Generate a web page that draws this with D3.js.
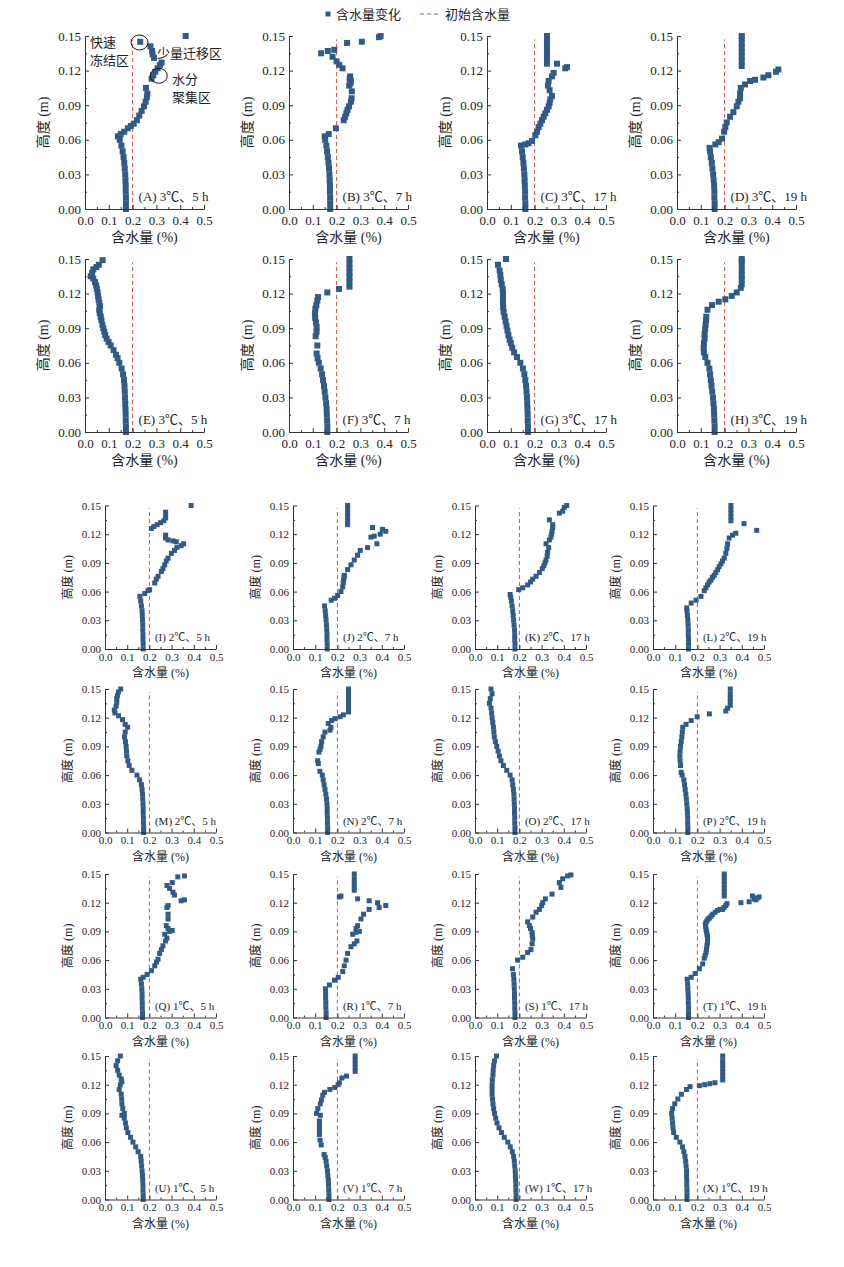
<!DOCTYPE html>
<html>
<head>
<meta charset="utf-8">
<script src="https://cdn.jsdelivr.net/npm/d3@7"></script>
<style>
  body { margin: 0; background: #fff; }
  svg text { font-family: 'Liberation Serif', 'Times New Roman', 'Noto Sans CJK SC', serif; }
</style>
</head>
<body>
<svg id="chart" width="844" height="1267"></svg>
<script>
// moisture content (%) vs height (m)
const panelA = [[0.172,0],[0.172,0.005],[0.172,0.01],[0.171,0.015],[0.171,0.02],[0.170,0.025],[0.169,0.03],[0.167,0.035],[0.165,0.04],[0.162,0.045],[0.158,0.05],[0.153,0.055],[0.146,0.06],[0.138,0.063],[0.15,0.065],[0.165,0.067],[0.18,0.07],[0.193,0.072],[0.205,0.074],[0.218,0.077],[0.228,0.081],[0.238,0.085],[0.248,0.089],[0.255,0.093],[0.26,0.097],[0.262,0.1],[0.256,0.105],[0.28,0.113],[0.287,0.116],[0.295,0.119],[0.305,0.122],[0.315,0.125],[0.322,0.127],[0.29,0.131],[0.284,0.134],[0.282,0.137],[0.275,0.141],[0.232,0.145],[0.423,0.15]];
const panelB = [[0.173,0],[0.173,0.005],[0.173,0.01],[0.172,0.015],[0.172,0.02],[0.171,0.025],[0.17,0.03],[0.168,0.035],[0.166,0.04],[0.163,0.045],[0.16,0.05],[0.157,0.055],[0.152,0.06],[0.15,0.063],[0.167,0.065],[0.197,0.07],[0.23,0.077],[0.236,0.08],[0.241,0.083],[0.246,0.086],[0.252,0.089],[0.26,0.093],[0.263,0.096],[0.264,0.102],[0.253,0.107],[0.258,0.109],[0.26,0.111],[0.255,0.113],[0.257,0.115],[0.225,0.122],[0.211,0.125],[0.2,0.128],[0.183,0.132],[0.135,0.135],[0.163,0.137],[0.19,0.138],[0.244,0.144],[0.306,0.145],[0.378,0.149],[0.385,0.15]];
const panelC = [[0.161,0],[0.161,0.005],[0.16,0.01],[0.16,0.015],[0.159,0.02],[0.158,0.025],[0.157,0.03],[0.155,0.035],[0.153,0.04],[0.15,0.045],[0.147,0.05],[0.143,0.055],[0.161,0.056],[0.175,0.057],[0.189,0.059],[0.203,0.064],[0.21,0.067],[0.217,0.071],[0.224,0.074],[0.231,0.077],[0.238,0.08],[0.245,0.083],[0.252,0.086],[0.259,0.089],[0.263,0.092],[0.266,0.095],[0.273,0.098],[0.263,0.103],[0.256,0.107],[0.259,0.111],[0.273,0.115],[0.28,0.118],[0.329,0.122],[0.336,0.123],[0.294,0.126],[0.252,0.126],[0.252,0.13],[0.252,0.134],[0.252,0.138],[0.252,0.142],[0.252,0.146],[0.252,0.15]];
const panelD = [[0.158,0],[0.158,0.005],[0.157,0.01],[0.157,0.015],[0.156,0.02],[0.154,0.025],[0.152,0.03],[0.149,0.035],[0.146,0.04],[0.142,0.045],[0.139,0.05],[0.137,0.053],[0.161,0.056],[0.175,0.058],[0.189,0.061],[0.198,0.067],[0.203,0.071],[0.209,0.075],[0.223,0.08],[0.237,0.084],[0.251,0.089],[0.258,0.093],[0.265,0.096],[0.265,0.1],[0.268,0.105],[0.286,0.108],[0.307,0.111],[0.328,0.112],[0.363,0.114],[0.384,0.116],[0.416,0.119],[0.426,0.121],[0.272,0.124],[0.272,0.128],[0.272,0.132],[0.272,0.136],[0.272,0.14],[0.272,0.144],[0.272,0.148],[0.272,0.15]];
const panelE = [[0.172,0],[0.172,0.005],[0.171,0.01],[0.171,0.015],[0.170,0.02],[0.169,0.025],[0.168,0.03],[0.167,0.035],[0.166,0.04],[0.164,0.045],[0.16,0.05],[0.154,0.055],[0.144,0.06],[0.137,0.064],[0.13,0.067],[0.12,0.071],[0.108,0.075],[0.099,0.078],[0.091,0.081],[0.085,0.084],[0.081,0.087],[0.077,0.09],[0.073,0.093],[0.069,0.097],[0.066,0.1],[0.062,0.103],[0.06,0.106],[0.063,0.109],[0.06,0.112],[0.057,0.115],[0.055,0.118],[0.053,0.121],[0.05,0.124],[0.047,0.127],[0.042,0.13],[0.035,0.133],[0.024,0.135],[0.03,0.138],[0.035,0.141],[0.048,0.143],[0.058,0.145],[0.074,0.149]];
const panelF = [[0.161,0],[0.161,0.005],[0.16,0.01],[0.159,0.015],[0.158,0.02],[0.156,0.025],[0.153,0.03],[0.15,0.035],[0.147,0.04],[0.143,0.045],[0.139,0.05],[0.133,0.055],[0.125,0.06],[0.12,0.064],[0.116,0.068],[0.119,0.075],[0.112,0.083],[0.116,0.087],[0.116,0.091],[0.113,0.095],[0.11,0.099],[0.109,0.103],[0.111,0.107],[0.115,0.11],[0.119,0.114],[0.122,0.117],[0.161,0.121],[0.21,0.124],[0.254,0.126],[0.254,0.13],[0.254,0.134],[0.254,0.138],[0.254,0.142],[0.254,0.146],[0.254,0.15]];
const panelG = [[0.172,0],[0.172,0.005],[0.171,0.01],[0.171,0.015],[0.17,0.02],[0.169,0.025],[0.168,0.03],[0.166,0.035],[0.164,0.04],[0.161,0.045],[0.157,0.05],[0.151,0.055],[0.14,0.06],[0.126,0.065],[0.114,0.069],[0.106,0.073],[0.1,0.077],[0.095,0.08],[0.09,0.084],[0.086,0.088],[0.082,0.092],[0.078,0.096],[0.074,0.1],[0.07,0.104],[0.068,0.108],[0.067,0.112],[0.067,0.116],[0.067,0.12],[0.066,0.124],[0.062,0.128],[0.058,0.132],[0.056,0.136],[0.053,0.14],[0.046,0.145],[0.08,0.15]];
const panelH = [[0.158,0],[0.158,0.005],[0.157,0.01],[0.156,0.015],[0.155,0.02],[0.153,0.025],[0.151,0.03],[0.148,0.035],[0.145,0.04],[0.142,0.045],[0.139,0.05],[0.136,0.055],[0.128,0.06],[0.119,0.065],[0.113,0.069],[0.112,0.073],[0.113,0.077],[0.116,0.081],[0.116,0.085],[0.118,0.089],[0.12,0.093],[0.122,0.097],[0.123,0.1],[0.128,0.106],[0.147,0.11],[0.175,0.113],[0.203,0.115],[0.23,0.118],[0.251,0.121],[0.268,0.125],[0.272,0.128],[0.272,0.132],[0.272,0.136],[0.272,0.14],[0.272,0.144],[0.272,0.148],[0.272,0.15]];
const panelI = [[0.172,0],[0.172,0.005],[0.171,0.01],[0.171,0.015],[0.17,0.02],[0.17,0.025],[0.169,0.03],[0.168,0.035],[0.167,0.04],[0.164,0.045],[0.161,0.05],[0.157,0.055],[0.179,0.058],[0.194,0.061],[0.201,0.062],[0.224,0.069],[0.231,0.073],[0.239,0.076],[0.254,0.081],[0.261,0.084],[0.269,0.088],[0.276,0.092],[0.284,0.095],[0.299,0.1],[0.313,0.103],[0.324,0.106],[0.343,0.108],[0.354,0.11],[0.321,0.112],[0.306,0.113],[0.284,0.114],[0.273,0.116],[0.273,0.119],[0.209,0.126],[0.22,0.128],[0.235,0.13],[0.25,0.132],[0.265,0.134],[0.273,0.137],[0.273,0.14],[0.273,0.143],[0.388,0.15]];
const panelJ = [[0.154,0],[0.154,0.005],[0.153,0.01],[0.153,0.015],[0.152,0.02],[0.151,0.025],[0.149,0.03],[0.147,0.035],[0.145,0.04],[0.142,0.045],[0.172,0.051],[0.187,0.053],[0.201,0.056],[0.216,0.06],[0.224,0.065],[0.226,0.069],[0.228,0.072],[0.23,0.075],[0.231,0.077],[0.246,0.083],[0.261,0.088],[0.276,0.093],[0.291,0.098],[0.303,0.103],[0.336,0.106],[0.378,0.11],[0.351,0.117],[0.366,0.118],[0.393,0.12],[0.418,0.123],[0.403,0.125],[0.358,0.127],[0.246,0.13],[0.246,0.134],[0.246,0.138],[0.246,0.142],[0.246,0.146],[0.246,0.15]];
const panelK = [[0.18,0],[0.18,0.005],[0.179,0.01],[0.179,0.015],[0.178,0.02],[0.176,0.025],[0.174,0.03],[0.172,0.035],[0.17,0.04],[0.167,0.045],[0.164,0.05],[0.161,0.054],[0.158,0.057],[0.197,0.062],[0.215,0.064],[0.237,0.067],[0.25,0.07],[0.26,0.073],[0.275,0.076],[0.29,0.08],[0.303,0.084],[0.31,0.087],[0.315,0.09],[0.32,0.093],[0.325,0.097],[0.327,0.101],[0.332,0.106],[0.32,0.11],[0.335,0.114],[0.342,0.117],[0.345,0.12],[0.347,0.123],[0.35,0.127],[0.35,0.13],[0.335,0.135],[0.38,0.142],[0.395,0.144],[0.402,0.148],[0.413,0.15]];
const panelL = [[0.16,0],[0.16,0.005],[0.16,0.01],[0.159,0.015],[0.159,0.02],[0.158,0.025],[0.157,0.03],[0.155,0.035],[0.153,0.04],[0.152,0.043],[0.172,0.048],[0.194,0.051],[0.216,0.055],[0.231,0.061],[0.238,0.064],[0.246,0.067],[0.253,0.07],[0.261,0.072],[0.268,0.075],[0.276,0.077],[0.283,0.08],[0.291,0.083],[0.298,0.086],[0.306,0.089],[0.313,0.092],[0.321,0.095],[0.328,0.1],[0.333,0.105],[0.336,0.11],[0.343,0.116],[0.358,0.119],[0.373,0.121],[0.467,0.124],[0.41,0.131],[0.351,0.134],[0.351,0.138],[0.351,0.142],[0.351,0.146],[0.351,0.15]];
const panelM = [[0.174,0],[0.174,0.005],[0.173,0.01],[0.173,0.015],[0.172,0.02],[0.172,0.025],[0.171,0.03],[0.17,0.035],[0.169,0.04],[0.167,0.045],[0.164,0.05],[0.156,0.055],[0.144,0.06],[0.121,0.065],[0.109,0.07],[0.103,0.075],[0.098,0.08],[0.097,0.085],[0.095,0.09],[0.092,0.095],[0.088,0.1],[0.091,0.105],[0.102,0.11],[0.091,0.113],[0.079,0.118],[0.061,0.122],[0.045,0.125],[0.042,0.128],[0.05,0.132],[0.053,0.136],[0.053,0.14],[0.056,0.143],[0.061,0.147],[0.071,0.15]];
const panelN = [[0.156,0],[0.156,0.005],[0.155,0.01],[0.155,0.015],[0.154,0.02],[0.154,0.025],[0.153,0.03],[0.151,0.035],[0.148,0.04],[0.144,0.045],[0.14,0.05],[0.136,0.055],[0.132,0.06],[0.121,0.064],[0.114,0.072],[0.111,0.075],[0.117,0.084],[0.122,0.087],[0.126,0.09],[0.129,0.095],[0.136,0.1],[0.144,0.105],[0.167,0.107],[0.171,0.11],[0.159,0.114],[0.174,0.117],[0.189,0.119],[0.212,0.121],[0.227,0.123],[0.25,0.126],[0.25,0.13],[0.25,0.134],[0.25,0.138],[0.25,0.142],[0.25,0.146],[0.25,0.15]];
const panelO = [[0.18,0],[0.18,0.005],[0.179,0.01],[0.179,0.015],[0.178,0.02],[0.178,0.025],[0.177,0.03],[0.176,0.035],[0.175,0.04],[0.173,0.045],[0.17,0.05],[0.167,0.055],[0.158,0.06],[0.143,0.065],[0.128,0.07],[0.117,0.075],[0.11,0.08],[0.104,0.085],[0.098,0.09],[0.092,0.095],[0.087,0.1],[0.085,0.105],[0.083,0.11],[0.08,0.115],[0.077,0.12],[0.075,0.125],[0.072,0.13],[0.065,0.135],[0.069,0.14],[0.077,0.145],[0.072,0.15]];
const panelP = [[0.157,0],[0.157,0.005],[0.156,0.01],[0.156,0.015],[0.155,0.02],[0.154,0.025],[0.152,0.03],[0.15,0.035],[0.148,0.04],[0.145,0.045],[0.142,0.05],[0.139,0.055],[0.131,0.06],[0.127,0.063],[0.124,0.07],[0.122,0.075],[0.121,0.08],[0.122,0.085],[0.124,0.09],[0.127,0.095],[0.13,0.1],[0.132,0.105],[0.134,0.11],[0.149,0.113],[0.172,0.117],[0.199,0.121],[0.254,0.124],[0.328,0.127],[0.336,0.13],[0.348,0.133],[0.348,0.137],[0.348,0.141],[0.348,0.145],[0.348,0.15]];
const panelQ = [[0.169,0],[0.169,0.005],[0.168,0.01],[0.168,0.015],[0.167,0.02],[0.167,0.025],[0.166,0.03],[0.164,0.035],[0.161,0.04],[0.172,0.042],[0.19,0.045],[0.209,0.049],[0.224,0.054],[0.232,0.058],[0.239,0.061],[0.246,0.067],[0.254,0.071],[0.261,0.075],[0.273,0.08],[0.279,0.083],[0.269,0.087],[0.291,0.09],[0.303,0.091],[0.284,0.093],[0.276,0.096],[0.284,0.103],[0.284,0.108],[0.279,0.115],[0.284,0.117],[0.343,0.122],[0.358,0.123],[0.313,0.128],[0.306,0.131],[0.291,0.135],[0.279,0.138],[0.303,0.141],[0.328,0.147],[0.358,0.148]];
const panelR = [[0.149,0],[0.149,0.005],[0.148,0.01],[0.148,0.015],[0.147,0.02],[0.147,0.025],[0.146,0.03],[0.164,0.034],[0.187,0.039],[0.204,0.042],[0.224,0.048],[0.231,0.054],[0.239,0.06],[0.246,0.067],[0.261,0.074],[0.276,0.077],[0.288,0.08],[0.269,0.087],[0.284,0.089],[0.299,0.09],[0.284,0.093],[0.291,0.096],[0.306,0.103],[0.318,0.108],[0.343,0.113],[0.388,0.115],[0.418,0.117],[0.381,0.12],[0.343,0.122],[0.291,0.124],[0.209,0.126],[0.216,0.127],[0.276,0.133],[0.276,0.137],[0.276,0.141],[0.276,0.145],[0.276,0.15]];
const panelS = [[0.18,0],[0.18,0.005],[0.179,0.01],[0.179,0.015],[0.178,0.02],[0.178,0.025],[0.177,0.03],[0.176,0.035],[0.175,0.04],[0.173,0.045],[0.169,0.051],[0.192,0.06],[0.215,0.063],[0.237,0.068],[0.252,0.071],[0.257,0.077],[0.26,0.082],[0.258,0.086],[0.257,0.089],[0.25,0.093],[0.245,0.096],[0.237,0.1],[0.26,0.105],[0.275,0.11],[0.29,0.113],[0.3,0.117],[0.305,0.12],[0.317,0.124],[0.347,0.129],[0.387,0.136],[0.38,0.141],[0.395,0.145],[0.417,0.148],[0.432,0.149]];
const panelT = [[0.16,0],[0.16,0.005],[0.16,0.01],[0.159,0.015],[0.159,0.02],[0.158,0.025],[0.157,0.03],[0.156,0.035],[0.154,0.04],[0.172,0.042],[0.19,0.046],[0.209,0.051],[0.224,0.056],[0.231,0.062],[0.235,0.065],[0.239,0.068],[0.241,0.071],[0.243,0.075],[0.245,0.078],[0.246,0.082],[0.245,0.085],[0.243,0.087],[0.241,0.09],[0.239,0.092],[0.237,0.095],[0.236,0.097],[0.238,0.099],[0.243,0.101],[0.248,0.103],[0.254,0.104],[0.262,0.106],[0.269,0.108],[0.28,0.11],[0.291,0.112],[0.302,0.113],[0.313,0.113],[0.32,0.115],[0.328,0.117],[0.333,0.119],[0.396,0.12],[0.433,0.121],[0.463,0.123],[0.455,0.124],[0.47,0.125],[0.478,0.126],[0.448,0.127],[0.321,0.127],[0.321,0.131],[0.321,0.135],[0.321,0.139],[0.321,0.143],[0.321,0.147],[0.321,0.15]];
const panelU = [[0.172,0],[0.172,0.005],[0.171,0.01],[0.171,0.015],[0.17,0.02],[0.169,0.025],[0.167,0.03],[0.165,0.035],[0.163,0.04],[0.161,0.045],[0.149,0.05],[0.138,0.055],[0.126,0.06],[0.115,0.065],[0.103,0.07],[0.096,0.075],[0.092,0.08],[0.087,0.085],[0.076,0.088],[0.087,0.09],[0.08,0.095],[0.076,0.1],[0.075,0.105],[0.073,0.11],[0.064,0.115],[0.069,0.12],[0.076,0.123],[0.073,0.126],[0.064,0.13],[0.057,0.135],[0.05,0.14],[0.057,0.145],[0.069,0.15]];
const panelV = [[0.162,0],[0.162,0.005],[0.161,0.01],[0.16,0.015],[0.159,0.02],[0.157,0.025],[0.155,0.03],[0.152,0.035],[0.149,0.04],[0.145,0.044],[0.14,0.047],[0.127,0.057],[0.122,0.062],[0.119,0.068],[0.119,0.072],[0.119,0.075],[0.119,0.079],[0.119,0.082],[0.123,0.088],[0.106,0.09],[0.112,0.095],[0.123,0.1],[0.128,0.104],[0.134,0.109],[0.142,0.112],[0.166,0.115],[0.188,0.117],[0.203,0.12],[0.209,0.122],[0.22,0.127],[0.241,0.129],[0.28,0.134],[0.28,0.138],[0.28,0.142],[0.28,0.146],[0.28,0.15]];
const panelW = [[0.185,0],[0.185,0.005],[0.184,0.01],[0.184,0.015],[0.183,0.02],[0.182,0.025],[0.181,0.03],[0.179,0.035],[0.177,0.04],[0.174,0.045],[0.168,0.05],[0.159,0.055],[0.148,0.06],[0.132,0.065],[0.119,0.07],[0.108,0.075],[0.099,0.08],[0.093,0.085],[0.088,0.09],[0.084,0.095],[0.081,0.1],[0.079,0.105],[0.077,0.11],[0.077,0.115],[0.077,0.12],[0.078,0.125],[0.081,0.13],[0.082,0.135],[0.084,0.14],[0.088,0.145],[0.097,0.15]];
const panelX = [[0.153,0],[0.153,0.005],[0.153,0.01],[0.152,0.015],[0.152,0.02],[0.151,0.025],[0.151,0.03],[0.149,0.035],[0.147,0.04],[0.144,0.045],[0.139,0.05],[0.133,0.055],[0.121,0.06],[0.105,0.065],[0.093,0.07],[0.09,0.075],[0.088,0.08],[0.086,0.085],[0.084,0.09],[0.088,0.095],[0.098,0.1],[0.112,0.105],[0.128,0.11],[0.151,0.115],[0.167,0.118],[0.209,0.119],[0.233,0.12],[0.256,0.121],[0.279,0.122],[0.314,0.125],[0.314,0.129],[0.314,0.133],[0.314,0.137],[0.314,0.141],[0.314,0.145],[0.314,0.15]];

const panels = [panelA, panelB, panelC, panelD, panelE, panelF, panelG, panelH,
  panelI, panelJ, panelK, panelL, panelM, panelN, panelO, panelP,
  panelQ, panelR, panelS, panelT, panelU, panelV, panelW, panelX];

const panelTitles = [
  '(A) 3℃、5 h', '(B) 3℃、7 h', '(C) 3℃、17 h', '(D) 3℃、19 h',
  '(E) 3℃、5 h', '(F) 3℃、7 h', '(G) 3℃、17 h', '(H) 3℃、19 h',
  '(I) 2℃、5 h', '(J) 2℃、7 h', '(K) 2℃、17 h', '(L) 2℃、19 h',
  '(M) 2℃、5 h', '(N) 2℃、7 h', '(O) 2℃、17 h', '(P) 2℃、19 h',
  '(Q) 1℃、5 h', '(R) 1℃、7 h', '(S) 1℃、17 h', '(T) 1℃、19 h',
  '(U) 1℃、5 h', '(V) 1℃、7 h', '(W) 1℃、17 h', '(X) 1℃、19 h'
];

const xTicks = [0, 0.1, 0.2, 0.3, 0.4, 0.5];
const xMinorTicks = [0.05, 0.15, 0.25, 0.35, 0.45];
const yTicks = [0, 0.03, 0.06, 0.09, 0.12, 0.15];
const yMinorTicks = [0.015, 0.045, 0.075, 0.105, 0.135];
const initialMoisture = 0.2;
const dashTop = 0.147;
const legendLabels = ['含水量变化', '初始含水量'];

// zone notes on panel A
const zoneTexts = [
  { text: '快速', x: 0.021, y: 0.144 },
  { text: '冻结区', x: 0.021, y: 0.129 },
  { text: '少量迁移区', x: 0.303, y: 0.135 },
  { text: '水分', x: 0.366, y: 0.112 },
  { text: '聚集区', x: 0.366, y: 0.097 }
];
const zoneRings = [{ x: 0.229, y: 0.1444 }, { x: 0.31, y: 0.1155 }];

const markColor = '#2f5b86';
const dashColor = '#e04a44';
const axisColor = '#333';

// two blocks of the figure: the larger 3℃ block and the smaller 2℃/1℃ block
const blocks = [
  { lefts: [85, 289, 487, 677], tops: [36, 259], w: 119, h: 173,
    marker: 6, tickFont: 13, titleFont: 14, yTitleGap: 42, xLabelDy: 17, xTitleDy: 33, first: 0 },
  { lefts: [105, 293, 475, 653], tops: [505.5, 689, 874, 1056], w: 111, h: 143.5,
    marker: 5, tickFont: 11, titleFont: 12, yTitleGap: 37, xLabelDy: 14, xTitleDy: 28, first: 8 }
];

const svg = d3.select('#chart');

blocks.forEach(b => {
  b.tops.forEach((top, r) => {
    b.lefts.forEach((left, c) => {
      const idx = b.first + r * 4 + c;
      drawPanel(panels[idx], panelTitles[idx], left, top, b, idx === 0);
    });
  });
});

function drawPanel(data, title, left, top, b, annotate) {
  const x = d3.scaleLinear().domain([0, 0.5]).range([0, b.w]);
  const y = d3.scaleLinear().domain([0, 0.15]).range([b.h, 0]);

  const g = svg.append('g')
    .attr('transform', `translate(${left},${top})`);

  // initial moisture line
  g.append('line')
    .attr('x1', x(initialMoisture))
    .attr('x2', x(initialMoisture))
    .attr('y1', y(0))
    .attr('y2', y(dashTop))
    .attr('stroke', dashColor)
    .attr('stroke-width', 1)
    .attr('stroke-dasharray', '4,3');

  const s = b.marker;
  g.append('g')
    .selectAll('rect')
    .data(data)
    .enter()
    .append('rect')
    .attr('x', d => x(d[0]) - s / 2)
    .attr('y', d => y(d[1]) - s / 2)
    .attr('width', s)
    .attr('height', s)
    .attr('fill', markColor);

  const xAxis = g.append('g')
    .attr('transform', `translate(0,${b.h})`)
    .call(d3.axisBottom(x).tickValues(xTicks).tickFormat(d3.format('.1f'))
      .tickSizeInner(-4).tickSizeOuter(0).tickPadding(b.xLabelDy - 10));
  g.append('g')
    .attr('transform', `translate(0,${b.h})`)
    .call(d3.axisBottom(x).tickValues(xMinorTicks).tickFormat('')
      .tickSizeInner(-2).tickSizeOuter(0))
    .call(a => a.select('.domain').remove());

  const yAxis = g.append('g')
    .call(d3.axisLeft(y).tickValues(yTicks).tickFormat(d3.format('.2f'))
      .tickSizeInner(-4).tickSizeOuter(0).tickPadding(4));
  g.append('g')
    .call(d3.axisLeft(y).tickValues(yMinorTicks).tickFormat('')
      .tickSizeInner(-2).tickSizeOuter(0))
    .call(a => a.select('.domain').remove());

  g.selectAll('.domain, .tick line').attr('stroke', axisColor);
  [xAxis, yAxis].forEach(a => a.selectAll('text')
    .attr('fill', '#222')
    .style('font-size', `${b.tickFont}px`));

  g.append('text')
    .attr('x', b.w / 2)
    .attr('y', b.h + b.xTitleDy)
    .attr('text-anchor', 'middle')
    .attr('fill', '#222')
    .style('font-size', `${b.titleFont}px`)
    .text('含水量 (%)');

  g.append('text')
    .attr('transform', `translate(${-b.yTitleGap},${b.h / 2}) rotate(-90)`)
    .attr('text-anchor', 'middle')
    .attr('dominant-baseline', 'central')
    .attr('fill', '#222')
    .style('font-size', `${b.titleFont}px`)
    .text('高度 (m)');

  g.append('text')
    .attr('x', x(0.225))
    .attr('y', b.h - 8)
    .attr('fill', '#222')
    .style('font-size', `${b.tickFont}px`)
    .text(title);

  if (annotate) {
    g.selectAll('.zone-text')
      .data(zoneTexts)
      .enter()
      .append('text')
      .attr('x', d => x(d.x))
      .attr('y', d => y(d.y))
      .attr('dominant-baseline', 'central')
      .attr('fill', '#222')
      .style('font-size', '13px')
      .text(d => d.text);

    g.selectAll('.zone-ring')
      .data(zoneRings)
      .enter()
      .append('ellipse')
      .attr('cx', d => x(d.x))
      .attr('cy', d => y(d.y))
      .attr('rx', 8.5)
      .attr('ry', 7.5)
      .attr('fill', 'none')
      .attr('stroke', '#111')
      .attr('stroke-width', 1);
  }
}

// legend
const legend = svg.append('g')
  .attr('transform', 'translate(328,14)');

legend.append('rect')
  .attr('x', -2.5)
  .attr('y', -2.5)
  .attr('width', 5)
  .attr('height', 5)
  .attr('fill', markColor);

legend.append('text')
  .attr('x', 8)
  .attr('y', 0)
  .attr('dominant-baseline', 'central')
  .attr('fill', '#222')
  .style('font-size', '13px')
  .text(legendLabels[0]);

legend.append('line')
  .attr('x1', 92)
  .attr('x2', 112)
  .attr('y1', 0)
  .attr('y2', 0)
  .attr('stroke', dashColor)
  .attr('stroke-width', 1)
  .attr('stroke-dasharray', '4,3');

legend.append('text')
  .attr('x', 117)
  .attr('y', 0)
  .attr('dominant-baseline', 'central')
  .attr('fill', '#222')
  .style('font-size', '13px')
  .text(legendLabels[1]);
</script>
</body>
</html>
